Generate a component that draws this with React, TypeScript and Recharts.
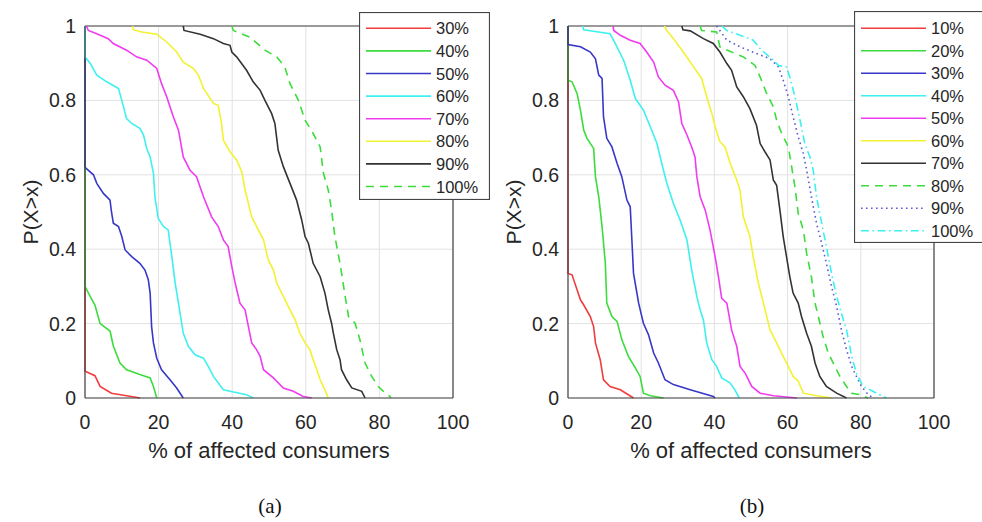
import React from 'react';
import { LineChart, Line, XAxis, YAxis, CartesianGrid, ReferenceLine } from 'recharts';

type Pt = [number, number];

// Panel (a): exceedance curves P(X>x) per percentage level
const a30: Pt[] = [[0, 1], [0, 0.072], [2.7, 0.06], [4.1, 0.031], [7.2, 0.013], [11.3, 0.006], [15, 0]];
const a40: Pt[] = [[0, 1], [0, 0.3], [1.4, 0.273], [2.7, 0.25], [4.1, 0.2], [6.8, 0.18], [7.7, 0.14], [9.5, 0.094], [11.3, 0.076], [14.9, 0.063], [17.7, 0.054], [18.6, 0.031], [19.5, 0]];
const a50: Pt[] = [[0, 1], [0, 0.62], [2.3, 0.6], [3.2, 0.577], [5, 0.55], [6.8, 0.532], [7.2, 0.5], [7.7, 0.47], [9.1, 0.461], [10, 0.434], [10.9, 0.398], [12.7, 0.38], [14.9, 0.362], [16.3, 0.344], [17.2, 0.318], [17.7, 0.282], [18.1, 0.192], [18.6, 0.148], [19.5, 0.107], [20.8, 0.076], [23.1, 0.049], [24.9, 0.027], [26.7, 0]];
const a60: Pt[] = [[0, 1], [0, 0.917], [1.4, 0.9], [3.2, 0.868], [5.9, 0.85], [9.1, 0.832], [10, 0.8], [11.3, 0.751], [12.7, 0.738], [14.9, 0.725], [15.9, 0.707], [16.8, 0.67], [17.7, 0.648], [18.6, 0.604], [19, 0.541], [19.9, 0.483], [21.3, 0.461], [22.6, 0.452], [23.6, 0.38], [24.5, 0.309], [25.4, 0.255], [26.7, 0.174], [28.1, 0.139], [29.9, 0.116], [32.2, 0.107], [33.5, 0.085], [34.9, 0.058], [37.6, 0.022], [39.4, 0.018], [43.9, 0.009], [45.7, 0]];
const a70: Pt[] = [[0.4, 1], [0.9, 0.988], [3.2, 0.979], [6.3, 0.966], [7.7, 0.953], [11.3, 0.935], [14, 0.917], [16.8, 0.908], [19.5, 0.886], [20.8, 0.845], [22.2, 0.81], [24, 0.756], [25.4, 0.72], [26.7, 0.648], [28.5, 0.613], [30.3, 0.595], [32.2, 0.541], [34.4, 0.487], [36.2, 0.461], [37.6, 0.425], [38.9, 0.407], [39.9, 0.353], [40.8, 0.309], [42.1, 0.255], [43.5, 0.237], [44.4, 0.192], [45.3, 0.148], [46.6, 0.13], [47.6, 0.112], [48.5, 0.076], [51.2, 0.054], [53.9, 0.027], [56.6, 0.018], [59.3, 0.004], [61.6, 0]];
const a80: Pt[] = [[13, 1], [13.1, 0.99], [15.4, 0.984], [19.5, 0.978], [22.2, 0.957], [24.9, 0.93], [26.7, 0.903], [29.4, 0.886], [30.8, 0.868], [32.2, 0.832], [34.9, 0.792], [36.2, 0.787], [37.1, 0.738], [37.6, 0.693], [39.4, 0.662], [41.2, 0.64], [42.6, 0.608], [43.5, 0.559], [45.3, 0.487], [47.1, 0.452], [48.5, 0.425], [49.8, 0.371], [51.2, 0.344], [52.1, 0.309], [53.9, 0.273], [55.7, 0.237], [57.1, 0.21], [58.4, 0.174], [59.8, 0.148], [61.1, 0.13], [62, 0.103], [63, 0.076], [63.9, 0.049], [65.2, 0.022], [66.1, 0]];
const a90: Pt[] = [[26.7, 1], [26.9, 0.988], [31.3, 0.978], [34.9, 0.966], [37.6, 0.953], [39.4, 0.948], [39.9, 0.93], [41.2, 0.917], [43.9, 0.881], [45.7, 0.85], [47.6, 0.827], [48.9, 0.8], [50.7, 0.765], [51.6, 0.738], [52.5, 0.666], [53.9, 0.622], [55.7, 0.577], [57.5, 0.532], [58.9, 0.478], [59.8, 0.434], [60.7, 0.416], [62, 0.362], [63.9, 0.326], [65.2, 0.282], [66.1, 0.237], [67, 0.201], [67.5, 0.174], [68.4, 0.13], [69.3, 0.103], [69.7, 0.076], [71.1, 0.049], [72.5, 0.027], [75.2, 0.018], [76.1, 0]];
const a100: Pt[] = [[39.9, 1], [40.3, 0.988], [44.8, 0.97], [48.9, 0.935], [52.1, 0.917], [54.3, 0.89], [55.7, 0.845], [58, 0.8], [59.8, 0.747], [62, 0.711], [63.9, 0.675], [64.8, 0.604], [66.1, 0.559], [67, 0.505], [67.9, 0.434], [69.3, 0.362], [70.7, 0.273], [71.6, 0.219], [73.4, 0.201], [74.7, 0.157], [76.1, 0.094], [77.9, 0.058], [79.7, 0.031], [81.1, 0.018], [82.9, 0.004], [83.1, 0]];

// Panel (b)
const b10: Pt[] = [[0, 1], [0, 0.335], [1.1, 0.331], [2.5, 0.29], [3.4, 0.264], [4.3, 0.25], [6.1, 0.219], [7, 0.192], [7.5, 0.148], [8.8, 0.103], [9.7, 0.049], [11.5, 0.031], [14.3, 0.022], [17.9, 0]];
const b20: Pt[] = [[0, 1], [0, 0.854], [1.1, 0.85], [2.5, 0.818], [3.4, 0.774], [4.3, 0.72], [5.2, 0.698], [7, 0.671], [7.5, 0.595], [8.4, 0.541], [9.3, 0.461], [10.2, 0.362], [10.6, 0.255], [12, 0.219], [13.4, 0.206], [14.7, 0.157], [16.5, 0.112], [18.4, 0.081], [19.7, 0.058], [20.6, 0.013], [22.5, 0.006], [26.1, 0]];
const b30: Pt[] = [[0, 1], [0, 0.95], [3.4, 0.944], [6.1, 0.93], [7.5, 0.912], [8.4, 0.868], [9.3, 0.859], [9.7, 0.756], [10.6, 0.698], [12, 0.675], [13.4, 0.631], [14.7, 0.595], [16.1, 0.532], [17, 0.514], [17.5, 0.416], [17.9, 0.335], [19.3, 0.255], [20.6, 0.201], [22, 0.17], [23.4, 0.121], [24.7, 0.094], [26.5, 0.049], [28.8, 0.036], [33.4, 0.022], [39.7, 0.004], [40.2, 0]];
const b40: Pt[] = [[4, 1], [4.3, 0.99], [11.5, 0.979], [12.9, 0.953], [15.2, 0.908], [17, 0.854], [18.4, 0.805], [20.6, 0.774], [22.5, 0.729], [24.3, 0.684], [25.6, 0.631], [27, 0.577], [28.8, 0.523], [30.6, 0.479], [32.5, 0.425], [33.8, 0.344], [35.2, 0.273], [36.1, 0.237], [37, 0.21], [37.9, 0.148], [39.3, 0.103], [40.6, 0.085], [42, 0.054], [44.3, 0.04], [45.6, 0.022], [46.8, 0]];
const b50: Pt[] = [[12.3, 1], [12.5, 0.988], [14.3, 0.975], [17, 0.962], [19.7, 0.953], [21.5, 0.93], [23.4, 0.903], [24.7, 0.863], [26.5, 0.841], [28.8, 0.827], [30.2, 0.796], [31.1, 0.738], [32.5, 0.707], [33.8, 0.675], [34.7, 0.648], [35.2, 0.595], [36.1, 0.541], [37.5, 0.505], [38.8, 0.452], [40.2, 0.38], [41.1, 0.326], [42, 0.268], [43.4, 0.255], [44.7, 0.183], [46.1, 0.139], [47, 0.085], [48.4, 0.067], [50.2, 0.031], [52.5, 0.013], [56.1, 0.006], [62.5, 0]];
const b60: Pt[] = [[26.3, 1], [27, 0.988], [28.8, 0.966], [31.5, 0.93], [34.3, 0.89], [36.5, 0.859], [37.9, 0.81], [39.3, 0.765], [40.2, 0.729], [41.5, 0.689], [42.9, 0.675], [44.3, 0.631], [46.1, 0.586], [47, 0.559], [47.9, 0.487], [49.7, 0.434], [50.6, 0.38], [52, 0.309], [53.4, 0.255], [55.2, 0.183], [57, 0.148], [58.8, 0.112], [60.2, 0.085], [61.5, 0.058], [62.9, 0.045], [64.3, 0.013], [67.9, 0.006], [72, 0]];
const b70: Pt[] = [[31.1, 1], [31.4, 0.99], [33.4, 0.987], [37, 0.966], [39.7, 0.953], [41.5, 0.93], [43.4, 0.899], [44.7, 0.881], [46.1, 0.836], [47.9, 0.81], [49.7, 0.778], [51.5, 0.733], [52.5, 0.684], [53.8, 0.662], [55.2, 0.64], [56.1, 0.586], [57, 0.572], [57.9, 0.505], [58.8, 0.434], [59.7, 0.38], [60.6, 0.326], [61.5, 0.282], [62.9, 0.255], [63.8, 0.219], [65.2, 0.174], [66.5, 0.139], [67.5, 0.094], [68.8, 0.058], [70.6, 0.031], [73.4, 0.013], [76.1, 0]];
const b80: Pt[] = [[36.1, 1], [36.5, 0.988], [40.6, 0.984], [41.5, 0.944], [44.7, 0.93], [47.9, 0.917], [51.1, 0.894], [52.5, 0.863], [54.3, 0.818], [56.1, 0.783], [57, 0.747], [58.4, 0.711], [60.2, 0.675], [61.1, 0.622], [62, 0.568], [62.9, 0.496], [64.3, 0.452], [65.2, 0.389], [66.5, 0.326], [67.5, 0.255], [68.4, 0.219], [69.7, 0.165], [71.1, 0.121], [72.9, 0.085], [74.3, 0.058], [76.1, 0.031], [77.5, 0.013], [79.7, 0.009], [82, 0]];
const b90: Pt[] = [[40.6, 1], [43.4, 0.962], [47, 0.944], [51.5, 0.926], [55.2, 0.912], [57.5, 0.89], [58.8, 0.854], [60.2, 0.81], [61.5, 0.756], [62.9, 0.702], [64.3, 0.657], [65.2, 0.613], [66.5, 0.541], [67.9, 0.47], [69.3, 0.416], [70.6, 0.362], [72, 0.3], [73.4, 0.246], [74.7, 0.183], [76.1, 0.13], [77.5, 0.085], [78.8, 0.058], [80.2, 0.031], [82, 0.009], [83.4, 0]];
const b100: Pt[] = [[42, 1], [43.4, 0.988], [47, 0.975], [50.6, 0.962], [52.5, 0.939], [56.1, 0.908], [57.5, 0.894], [59.7, 0.89], [60.6, 0.863], [62, 0.81], [63.4, 0.747], [64.7, 0.684], [66.1, 0.648], [67, 0.613], [67.9, 0.541], [69.3, 0.47], [70.6, 0.407], [72, 0.335], [73.4, 0.273], [74.7, 0.228], [76.1, 0.183], [77.5, 0.112], [78.8, 0.067], [80.6, 0.031], [82.5, 0.022], [84.3, 0.013], [87, 0]];

const labelsA = ['30%', '40%', '50%', '60%', '70%', '80%', '90%', '100%'];
const labelsB = ['10%', '20%', '30%', '40%', '50%', '60%', '70%', '80%', '90%', '100%'];

const xTicks = [0, 20, 40, 60, 80, 100];
const yTicks = [0, 0.2, 0.4, 0.6, 0.8, 1];

const xTitle = '% of affected consumers';
const yTitle = 'P(X>x)';

// MATLAB-like line specs
const C = {
  r: '#f03c3c',
  g: '#3cdc3c',
  b: '#3838c8',
  c: '#3ef0f0',
  m: '#f03cf0',
  y: '#f2f232',
  k: '#333333',
  p: '#5c5cd0',
};
const DASH = '8 6';
const DOT = '1.6 3.4';
const DASHDOT = '8 3.5 1.6 3.5';

type Series = { name: string; pts: Pt[]; color: string; dash?: string };

const seriesA: Series[] = [
  { name: labelsA[0], pts: a30, color: C.r },
  { name: labelsA[1], pts: a40, color: C.g },
  { name: labelsA[2], pts: a50, color: C.b },
  { name: labelsA[3], pts: a60, color: C.c },
  { name: labelsA[4], pts: a70, color: C.m },
  { name: labelsA[5], pts: a80, color: C.y },
  { name: labelsA[6], pts: a90, color: C.k },
  { name: labelsA[7], pts: a100, color: C.g, dash: DASH },
];

const seriesB: Series[] = [
  { name: labelsB[0], pts: b10, color: C.r },
  { name: labelsB[1], pts: b20, color: C.g },
  { name: labelsB[2], pts: b30, color: C.b },
  { name: labelsB[3], pts: b40, color: C.c },
  { name: labelsB[4], pts: b50, color: C.m },
  { name: labelsB[5], pts: b60, color: C.y },
  { name: labelsB[6], pts: b70, color: C.k },
  { name: labelsB[7], pts: b80, color: C.g, dash: DASH },
  { name: labelsB[8], pts: b90, color: C.p, dash: DOT },
  { name: labelsB[9], pts: b100, color: C.c, dash: DASHDOT },
];

const FONT = '"Liberation Sans", Arial, Helvetica, sans-serif';
const TEXT = '#262626';
const BOX = '#444444';

const YTitle = (props: any) => {
  const vb = props.viewBox || { x: 0, y: 0, width: 0, height: 0 };
  const cx = vb.x + vb.width - 55;
  const cy = vb.y + vb.height / 2;
  return (
    <text
      x={cx}
      y={cy}
      transform={`rotate(-90 ${cx} ${cy})`}
      textAnchor="middle"
      dominantBaseline="central"
      fontSize={21}
      fill={TEXT}
      fontFamily={FONT}
    >
      {yTitle}
    </text>
  );
};

const XTitle = (props: any) => {
  const vb = props.viewBox || { x: 0, y: 0, width: 0, height: 0 };
  return (
    <text
      x={vb.x + vb.width / 2}
      y={vb.y + vb.height}
      textAnchor="middle"
      fontSize={22}
      fill={TEXT}
      fontFamily={FONT}
    >
      {xTitle}
    </text>
  );
};

function LegendBox({ items, width, height, top0, gap }: { items: Series[]; width: number; height: number; top0: number; gap: number }) {
  return (
    <svg width={width} height={height} style={{ display: 'block' }}>
      <rect x={0.5} y={0.5} width={width - 1} height={height - 1} fill="#ffffff" stroke={BOX} strokeWidth={1.2} />
      {items.map((s, i) => {
        const y = top0 + i * gap;
        return (
          <g key={s.name}>
            <line x1={7} x2={72} y1={y} y2={y} stroke={s.color} strokeWidth={1.6} strokeDasharray={s.dash} />
            <text x={77} y={y} dominantBaseline="central" fontSize={16.5} fill={TEXT} fontFamily={FONT}>
              {s.name}
            </text>
          </g>
        );
      })}
    </svg>
  );
}

function Panel({ series, yAxisWidth, rightMargin }: { series: Series[]; yAxisWidth: number; rightMargin: number }) {
  return (
    <LineChart
      width={500}
      height={470}
      margin={{ top: 26, right: rightMargin, bottom: 12, left: 0 }}
      style={{ fontFamily: FONT }}
    >
      <CartesianGrid stroke="#e2e2e2" strokeWidth={1} />
      <XAxis
        dataKey="x"
        type="number"
        domain={[0, 100]}
        ticks={xTicks}
        height={60}
        tickLine={false}
        tickMargin={11}
        axisLine={{ stroke: BOX, strokeWidth: 1.2 }}
        tick={{ fontSize: 19.5, fill: TEXT }}
        label={<XTitle />}
      />
      <YAxis
        type="number"
        domain={[0, 1]}
        ticks={yTicks}
        width={yAxisWidth}
        tickLine={false}
        tickMargin={3}
        axisLine={{ stroke: BOX, strokeWidth: 1.2 }}
        tick={{ fontSize: 19.5, fill: TEXT }}
        label={<YTitle />}
      />
      <ReferenceLine x={100} stroke={BOX} strokeWidth={1.2} />
      <ReferenceLine y={1} stroke={BOX} strokeWidth={1.2} />
      {series.map((s) => (
        <Line
          key={s.name}
          name={s.name}
          data={s.pts.map(([x, y]) => ({ x, y }))}
          dataKey="y"
          type="linear"
          stroke={s.color}
          strokeWidth={1.6}
          strokeDasharray={s.dash}
          dot={false}
          activeDot={false}
          isAnimationActive={false}
        />
      ))}
    </LineChart>
  );
}

export default function App() {
  return (
    <div
      style={{
        position: 'absolute',
        left: 0,
        top: 0,
        width: 982,
        height: 522,
        background: '#ffffff',
        overflow: 'hidden',
        fontFamily: FONT,
      }}
    >
      <div style={{ position: 'absolute', left: 0, top: 0 }}>
        <Panel series={seriesA} yAxisWidth={85} rightMargin={47} />
      </div>
      <div style={{ position: 'absolute', left: 482, top: 0 }}>
        <Panel series={seriesB} yAxisWidth={86} rightMargin={48} />
      </div>
      <div style={{ position: 'absolute', left: 359, top: 12 }}>
        <LegendBox items={seriesA} width={131} height={188} top0={16.3} gap={22.6} />
      </div>
      <div style={{ position: 'absolute', left: 854, top: 11 }}>
        <LegendBox items={seriesB} width={134} height={232} top0={17.3} gap={22.5} />
      </div>
      <div
        style={{
          position: 'absolute',
          left: 220,
          width: 100,
          top: 494,
          textAlign: 'center',
          fontFamily: '"Liberation Serif", "Times New Roman", serif',
          fontSize: 21,
          color: '#111',
        }}
      >
        (a)
      </div>
      <div
        style={{
          position: 'absolute',
          left: 702,
          width: 100,
          top: 494,
          textAlign: 'center',
          fontFamily: '"Liberation Serif", "Times New Roman", serif',
          fontSize: 21,
          color: '#111',
        }}
      >
        (b)
      </div>
    </div>
  );
}
